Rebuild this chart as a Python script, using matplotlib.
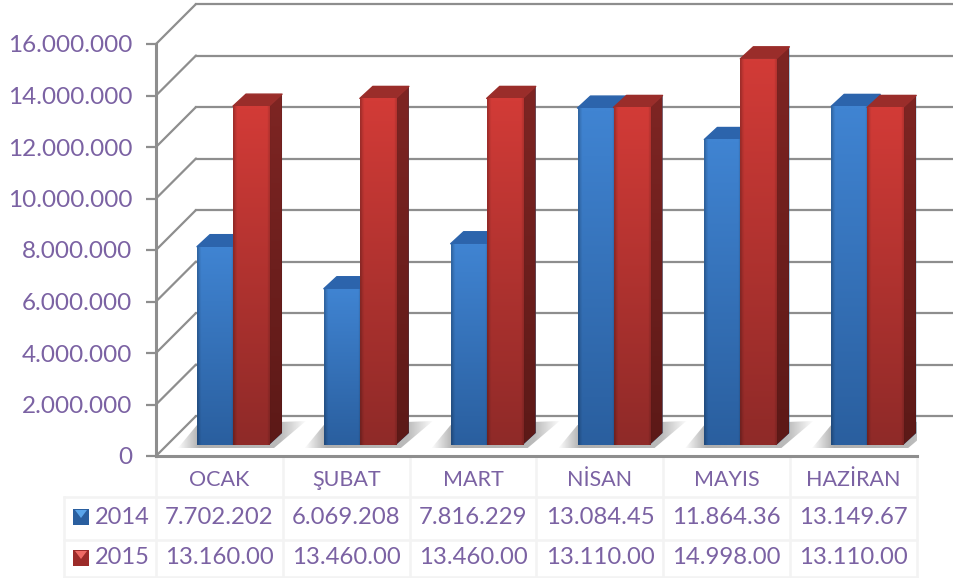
import matplotlib
matplotlib.use('Agg')
import matplotlib.pyplot as plt
import numpy as np
from matplotlib.patches import Polygon

plt.rcParams['font.family'] = ['Lato', 'DejaVu Sans']

months = ['OCAK', 'ŞUBAT', 'MART', 'NİSAN', 'MAYIS', 'HAZİRAN']
values_2014 = [7702202, 6069208, 7816229, 13084450, 11864360, 13149670]
values_2015 = [13160000, 13460000, 13460000, 13110000, 14998000, 13110000]
labels_2014 = ['7.702.202', '6.069.208', '7.816.229', '13.084.45', '11.864.36', '13.149.67']
labels_2015 = ['13.160.00', '13.460.00', '13.460.00', '13.110.00', '14.998.00', '13.110.00']
y_ticks = [0, 2000000, 4000000, 6000000, 8000000, 10000000, 12000000, 14000000, 16000000]
y_tick_labels = ['0', '2.000.000', '4.000.000', '6.000.000', '8.000.000',
                 '10.000.000', '12.000.000', '14.000.000', '16.000.000']

W, H = 954, 578
TEXT = '#7b62a3'
GRID = '#8e8e8e'
CELL = '#f3f3f3'

# plot box in pixels
LEFT, RIGHT, TOP, BOTTOM = 156, 917, 44, 456
PX_X = 6 / (RIGHT - LEFT)
PX_Y = 16000000 / (BOTTOM - TOP)

fig = plt.figure(figsize=(W / 100, H / 100), dpi=100)

# pixel overlay for the table and the keys
over = fig.add_axes([0, 0, 1, 1])
over.set_xlim(0, W)
over.set_ylim(H, 0)
over.axis('off')

ax = fig.add_axes([LEFT / W, 1 - BOTTOM / H, (RIGHT - LEFT) / W, (BOTTOM - TOP) / H])
ax.patch.set_alpha(0)
ax.set_xlim(0, 6)
ax.set_ylim(0, 16000000)

# back wall + side wall
for v in y_ticks:
    ax.plot([0, 40 * PX_X], [v, v + 40 * PX_Y], color=GRID, lw=1.6, clip_on=False,
            solid_capstyle='round', zorder=1)
    ax.plot([40 * PX_X, (954 - LEFT) * PX_X], [v + 40 * PX_Y] * 2, color=GRID, lw=1.6,
            clip_on=False, zorder=1)

for s in ['top', 'right']:
    ax.spines[s].set_visible(False)
for s in ['left', 'bottom']:
    ax.spines[s].set_color(GRID)
    ax.spines[s].set_linewidth(2.2)
    ax.spines[s].set_zorder(6)

ax.set_yticks(y_ticks)
ax.set_yticklabels(y_tick_labels, fontsize=17.5, color=TEXT)
ax.tick_params(axis='y', length=7, width=1.6, color=GRID, pad=10)
ax.set_xticks(np.arange(6) + 0.5)
ax.set_xticklabels(months, fontsize=15.5, color=TEXT)
ax.tick_params(axis='x', length=0, pad=10)

base = 11 * PX_Y
depth_x = 13 * PX_X
depth_y = 12 * PX_Y
blue_off, red_off = 41 / 126.8, 77 / 126.8
bar_w = 36 / 126.8


def gradient(top, bottom, n=60):
    top = np.array(matplotlib.colors.to_rgb(top))
    bottom = np.array(matplotlib.colors.to_rgb(bottom))
    rows = np.linspace(0, 1, n)[:, None]
    img = np.repeat((top + (bottom - top) * rows)[:, None, :], 20, axis=1)
    # darker edges left and right
    shade = np.ones(20)
    shade[0], shade[1], shade[-1] = 0.78, 0.92, 0.88
    return img * shade[None, :, None]


def draw_bars(xs, vals, top_c, bot_c, side_top, side_bot, roof, z):
    bars = ax.bar(xs, vals, bar_w, bottom=base, align='edge', color=top_c, zorder=z)
    for x, v, bar in zip(xs, vals, bars):
        h = base + v
        side = Polygon([(x + bar_w, base), (x + bar_w + depth_x, base + depth_y),
                        (x + bar_w + depth_x, h + depth_y), (x + bar_w, h)],
                       closed=True, lw=0, zorder=z)
        ax.add_patch(side)
        im = ax.imshow(gradient(side_top, side_bot), extent=[x + bar_w, x + bar_w + depth_x, base, h + depth_y],
                       aspect='auto', zorder=z, interpolation='bilinear')
        im.set_clip_path(side)
        ax.fill([x, x + depth_x, x + bar_w + depth_x, x + bar_w],
                [h, h + depth_y, h + depth_y, h], facecolor=roof, edgecolor=roof, lw=1,
                joinstyle='round', zorder=z)
        im = ax.imshow(gradient(top_c, bot_c), extent=[x, x + bar_w, base, h],
                       aspect='auto', zorder=z + 0.1, interpolation='bilinear')
        im.set_clip_path(bar)


# floor shadows
xs_blue = np.arange(6) + blue_off
xs_red = np.arange(6) + red_off
for x in xs_blue:
    x0 = x - 19 * PX_X
    x1 = x + 2 * bar_w + 37 * PX_X
    y0 = base - 3 * PX_Y
    y1 = base + 24 * PX_Y
    shadow = Polygon([(x0, y0), (x, base + 20 * PX_Y), (x1, y1), (x + 2 * bar_w + 5 * PX_X, y0)],
                     closed=True, lw=0, facecolor='none', zorder=2)
    ax.add_patch(shadow)
    fade = np.ones((4, 60, 4))
    fade[..., :3] = 0.55
    fade[..., 3] = np.interp(np.linspace(0, 1, 60), [0, 0.16, 0.8, 1], [0.05, 0.7, 0.6, 0.02])
    im = ax.imshow(fade, extent=[x0, x1, y0, y1], aspect='auto', zorder=2, interpolation='bilinear')
    im.set_clip_path(shadow)

draw_bars(xs_blue, values_2014, '#4084d2', '#2a5f9f', '#27558f', '#1d4272', '#2c64ac', 3)
draw_bars(xs_red, values_2015, '#d23b37', '#8f2a28', '#7e2523', '#5c1917', '#9a2d2a', 4)

ax.set_xlim(0, 6)
ax.set_ylim(0, 16000000)

# table grid
rows = [497, 540]
col_x = [LEFT + i * (RIGHT - LEFT) / 6 for i in range(7)]
for y in rows:
    over.plot([64, RIGHT], [y, y], color=CELL, lw=1.8)
over.plot([64, RIGHT], [577, 577], color=CELL, lw=1.8)
for x in col_x:
    over.plot([x, x], [BOTTOM, 578], color=CELL, lw=1.8)
over.plot([64, 64], [497, 578], color=CELL, lw=1.8)

# table rows
for y, name, labels, dark, light in [(517, '2014', labels_2014, '#2a5f9f', '#5aa5ea'),
                                     (558, '2015', labels_2015, '#9c2b29', '#ef6a64')]:
    over.fill([73, 89, 89, 73], [y - 8, y - 8, y + 8, y + 8], color=dark, lw=0)
    over.fill([75, 87, 81], [y - 7, y - 7, y + 1], color=light, lw=0)
    over.text(95, y, name, fontsize=17, color=TEXT, ha='left', va='center')
    for i, txt in enumerate(labels):
        over.text((col_x[i] + col_x[i + 1]) / 2, y, txt, fontsize=17.2, color=TEXT,
                  ha='center', va='center')

plt.savefig('out.png', dpi=100)
